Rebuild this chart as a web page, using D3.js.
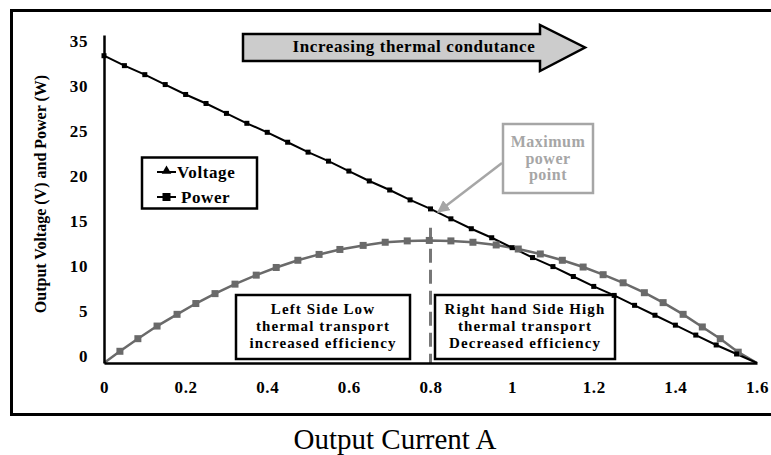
<!DOCTYPE html>
<html>
<head>
<meta charset="utf-8">
<script src="https://cdn.jsdelivr.net/npm/d3@7"></script>
<style>
  body { margin: 0; background: #fff; }
  text { font-family: "Liberation Serif", "Times New Roman", serif; }
  .bold { font-weight: bold; }
</style>
</head>
<body>
<script>
// chart data
var voltageCurrent = [0, 0.05, 0.1, 0.15, 0.2, 0.25, 0.3, 0.35, 0.4, 0.45, 0.5, 0.55, 0.6, 0.65, 0.7, 0.75,
  0.8, 0.85, 0.9, 0.95, 1.0, 1.05, 1.1, 1.15, 1.2, 1.25, 1.3, 1.35, 1.4, 1.45, 1.5, 1.55, 1.6];
var voltageValues = [34.1, 33.0, 32.0, 30.9, 29.8, 28.8, 27.7, 26.6, 25.6, 24.5, 23.4, 22.4, 21.3, 20.2, 19.2, 18.1,
  17.1, 16.0, 14.9, 13.9, 12.8, 11.7, 10.7, 9.6, 8.5, 7.5, 6.4, 5.3, 4.2, 3.1, 2.0, 1.0, 0];

var powerCurrent = [0, 0.039, 0.083, 0.130, 0.179, 0.225, 0.272, 0.321, 0.373, 0.422, 0.475, 0.527, 0.578,
  0.635, 0.689, 0.743, 0.797, 0.850, 0.904, 0.961, 1.015, 1.069, 1.123, 1.174, 1.223, 1.272, 1.324, 1.370,
  1.419, 1.466, 1.510, 1.554, 1.6];
var powerValues = [0, 1.3, 2.7, 4.1, 5.4, 6.6, 7.7, 8.75, 9.75, 10.6, 11.4, 12.05, 12.6,
  13.05, 13.4, 13.55, 13.6, 13.55, 13.4, 13.1, 12.65, 12.1, 11.4, 10.65, 9.8, 8.9, 7.8, 6.7,
  5.4, 4.0, 2.7, 1.2, 0];

var xTicks = [0, 0.2, 0.4, 0.6, 0.8, 1.0, 1.2, 1.4, 1.6];
var yTicks = [0, 5, 10, 15, 20, 25, 30, 35];

var mppCurrent = 0.8;   // dashed divider
var mppTop = 15;

// svg
var svgWidth = 771;
var svgHeight = 455;

var svg = d3.select("body")
  .append("svg")
  .attr("width", svgWidth)
  .attr("height", svgHeight);

var x = d3.scaleLinear().domain([0, 1.6]).range([104, 757]);
var y = d3.scaleLinear().domain([0, 36.4]).range([363, 35]);

// multi-line label as one text element
function block(sel, cx, y0, lines, step) {
  var t = sel.append("text")
    .attr("x", cx)
    .attr("y", y0)
    .attr("text-anchor", "middle");
  lines.forEach(function(s, i) {
    t.append("tspan")
      .attr("x", cx)
      .attr("dy", i === 0 ? 0 : step)
      .text(s);
  });
  return t;
}

// outer frame (right edge runs off the picture)
svg.append("path")
  .attr("d", "M780,10.5H11.5V414.5H780")
  .attr("fill", "none")
  .attr("stroke", "#000")
  .attr("stroke-width", 3);

// big "increasing" arrow
svg.append("path")
  .attr("d", "M243,34H540V25L585,47.5L540,71V61H243Z")
  .attr("fill", "#cccccc")
  .attr("stroke", "#000")
  .attr("stroke-width", 2.5)
  .attr("stroke-linejoin", "miter");

svg.append("text")
  .attr("class", "bold")
  .attr("x", 414)
  .attr("y", 52)
  .attr("text-anchor", "middle")
  .style("font-size", "17px")
  .style("letter-spacing", "0.6px")
  .text("Increasing thermal condutance");

// side boxes
var sideBoxes = [
  { x0: 236, x1: 410, cx: 323, lines: ["Left Side Low", "thermal transport", "increased efficiency"] },
  { x0: 435, x1: 615, cx: 525, lines: ["Right hand Side High", "thermal transport", "Decreased efficiency"] }
];

sideBoxes.forEach(function(b) {
  svg.append("rect")
    .attr("x", b.x0).attr("y", 295)
    .attr("width", b.x1 - b.x0).attr("height", 64)
    .attr("fill", "#fff")
    .attr("stroke", "#000")
    .attr("stroke-width", 2.5);
  block(svg, b.cx, 314, b.lines, 17)
    .attr("class", "bold")
    .style("font-size", "15px")
    .style("letter-spacing", "1.1px");
});

// dashed divider at max power current
svg.append("line")
  .attr("x1", x(mppCurrent)).attr("x2", x(mppCurrent))
  .attr("y1", y(mppTop)).attr("y2", y(0))
  .attr("stroke", "#777")
  .attr("stroke-width", 3)
  .attr("stroke-dasharray", "14,7");

// lines
var voltageData = voltageCurrent.map((c, i) => ({ c: c, v: voltageValues[i] }));
var powerData = powerCurrent.map((c, i) => ({ c: c, v: powerValues[i] }));

var line = d3.line().x(d => x(d.c)).y(d => y(d.v));

svg.append("path")
  .datum(powerData)
  .attr("d", line)
  .attr("fill", "none")
  .attr("stroke", "#6a6a6a")
  .attr("stroke-width", 2.5);

svg.append("path")
  .datum(voltageData)
  .attr("d", line)
  .attr("fill", "none")
  .attr("stroke", "#000")
  .attr("stroke-width", 2);

svg.selectAll(".pm")
  .data(powerData.filter(d => d.v > 0))
  .enter()
  .append("rect")
  .attr("x", d => x(d.c) - 3.5)
  .attr("y", d => y(d.v) - 3.5)
  .attr("width", 7)
  .attr("height", 7)
  .attr("fill", "#6a6a6a");

svg.selectAll(".vm")
  .data(voltageData.filter(d => d.v > 0))
  .enter()
  .append("rect")
  .attr("x", d => x(d.c) - 2.5)
  .attr("y", d => y(d.v) - 2.5)
  .attr("width", 5)
  .attr("height", 5)
  .attr("fill", "#000");

// axes
var xAxis = d3.axisBottom(x)
  .tickValues(xTicks)
  .tickSize(0)
  .tickPadding(18)
  .tickFormat(d => String(+d.toFixed(1)));

var yAxis = d3.axisLeft(y)
  .tickValues(yTicks)
  .tickSize(0)
  .tickPadding(16);

var gx = svg.append("g")
  .attr("transform", "translate(0,363)")
  .call(xAxis);

var gy = svg.append("g")
  .attr("transform", "translate(104,0)")
  .call(yAxis);

[gx, gy].forEach(function(g) {
  g.select(".domain").attr("stroke", "#000").attr("stroke-width", 2.5);
  g.selectAll("text")
    .attr("class", "bold")
    .attr("fill", "#000")
    .style("font-size", "17px")
    .style("letter-spacing", "0.6px");
});
gy.selectAll(".tick text").attr("transform", "translate(0,-6.5)");

// axis titles
svg.append("text")
  .attr("class", "bold")
  .attr("transform", "translate(46,194) rotate(-90)")
  .attr("text-anchor", "middle")
  .style("font-size", "16px")
  .text("Output Voltage (V) and Power (W)");

svg.append("text")
  .attr("x", 395)
  .attr("y", 449)
  .attr("text-anchor", "middle")
  .style("font-size", "29px")
  .text("Output Current A");

// legend
svg.append("rect")
  .attr("x", 142).attr("y", 157.5)
  .attr("width", 115).attr("height", 51)
  .attr("fill", "#fff")
  .attr("stroke", "#000")
  .attr("stroke-width", 2.5);

svg.append("line")
  .attr("x1", 157).attr("x2", 176).attr("y1", 172).attr("y2", 172)
  .attr("stroke", "#000").attr("stroke-width", 2);
svg.append("path")
  .attr("d", d3.symbol(d3.symbolTriangle, 40)())
  .attr("transform", "translate(166.5,171)")
  .attr("fill", "#000");
svg.append("text")
  .attr("class", "bold")
  .attr("x", 177).attr("y", 178)
  .style("font-size", "17px")
  .style("letter-spacing", "0.6px")
  .text("Voltage");

svg.append("line")
  .attr("x1", 157).attr("x2", 176).attr("y1", 197).attr("y2", 197)
  .attr("stroke", "#000").attr("stroke-width", 2);
svg.append("rect")
  .attr("x", 162.5).attr("y", 193).attr("width", 8).attr("height", 8)
  .attr("fill", "#000");
svg.append("text")
  .attr("class", "bold")
  .attr("x", 181).attr("y", 203)
  .style("font-size", "17px")
  .style("letter-spacing", "0.6px")
  .text("Power");

// maximum power point callout
var calloutGrey = "#a6a6a6";

svg.append("defs").append("marker")
  .attr("id", "head")
  .attr("viewBox", "0 0 10 10")
  .attr("refX", 9).attr("refY", 5)
  .attr("markerWidth", 5).attr("markerHeight", 5)
  .attr("orient", "auto")
  .append("path")
  .attr("d", "M0,0L10,5L0,10Z")
  .attr("fill", calloutGrey);

svg.append("line")
  .attr("x1", 502).attr("y1", 163)
  .attr("x2", 438).attr("y2", 212)
  .attr("stroke", calloutGrey)
  .attr("stroke-width", 2.5)
  .attr("marker-end", "url(#head)");

svg.append("rect")
  .attr("x", 503).attr("y", 124)
  .attr("width", 90).attr("height", 69)
  .attr("fill", "#fff")
  .attr("stroke", calloutGrey)
  .attr("stroke-width", 2.5);

block(svg, 548, 147, ["Maximum", "power", "point"], 16.5)
  .attr("class", "bold")
  .attr("fill", calloutGrey)
  .style("font-size", "16px")
  .style("letter-spacing", "0.5px");
</script>
</body>
</html>
